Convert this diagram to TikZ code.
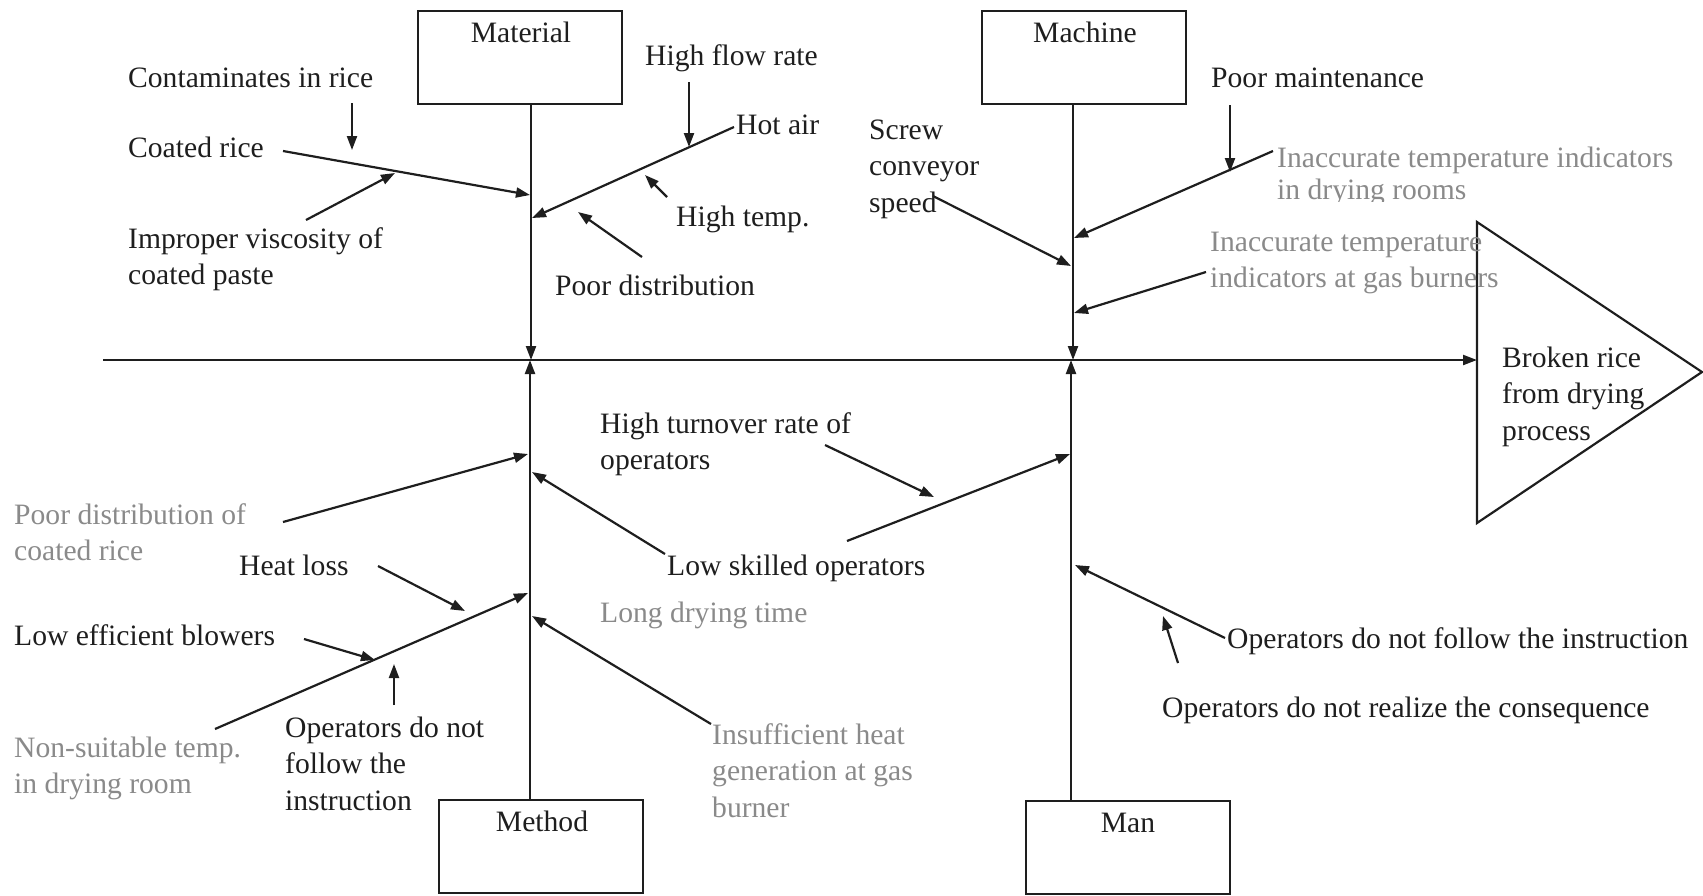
\documentclass[tikz,border=0pt]{standalone}
\usepackage{fontspec}
\setmainfont{Liberation Serif}
\usetikzlibrary{arrows.meta}
\definecolor{ink}{HTML}{1E1E1E}
\definecolor{dimink}{HTML}{8A8A8A}
% left-aligned stacked lines, baseline on the first line
\newcommand\mlines[1]{\begin{tabular}[t]{@{}l@{}}#1\end{tabular}}

\begin{document}
\begin{tikzpicture}[x=1pt,y=-1pt,
  txt/.style={inner sep=0pt, anchor=base west, text=ink,
              font=\fontsize{29.6}{36.5}\selectfont},
  dim/.style={txt, text=dimink},
  cattxt/.style={txt, anchor=base},
  catbox/.style={draw=ink, line width=2pt, minimum width=204pt,
                 minimum height=93pt, inner sep=0pt},
  bone/.style={draw=ink, line width=2.2pt},
  arr/.style={bone, -{Triangle[length=14pt,width=10pt]}},
]
\useasboundingbox (0,0) rectangle (1703,895);

% ---------- head and spine ----------
\coordinate (tail)   at (103,360);
\coordinate (triTop) at (1477,222);
\coordinate (triBot) at (1477,523);
\coordinate (triTip) at (1702,372);
\draw[bone, line join=miter] (triTop) -- (triTip) -- (triBot) -- cycle;
\draw[arr] (tail) -- (tail -| triTop);
\node[txt] (effect) at (1502,367) {\mlines{Broken rice\\from drying\\process}};

% ---------- category boxes ----------
\node[catbox] (material) at (520,57.5) {};
\node[cattxt] (materialtxt) at (521,42) {Material};
\node[catbox] (machine) at (1084,57.5) {};
\node[cattxt] (machinetxt) at (1085,42) {Machine};
\node[catbox] (method) at (541,846.5) {};
\node[cattxt] (methodtxt) at (542,831) {Method};
\node[catbox] (man) at (1128,847) {};
\node[cattxt] (mantxt) at (1128,832) {Man};

\coordinate (matJ) at (531,360);
\coordinate (macJ) at (1073,360);
\coordinate (metJ) at (530,360);
\coordinate (manJ) at (1071,360);
\draw[arr] (material.south -| matJ) -- (matJ);
\draw[arr] (machine.south -| macJ) -- (macJ);
\draw[arr] (method.north -| metJ) -- (metJ);
\draw[arr] (man.north -| manJ) -- (manJ);

% ---------- Material ----------
\node[txt] (contam) at (128,87) {Contaminates in rice};
\node[txt] (coated) at (128,157) {Coated rice};
\node[txt] (viscos) at (128,248) {\mlines{Improper viscosity of\\coated paste}};
\node[txt] (hotair) at (736,134) {Hot air};
\node[txt] (flow)   at (645,65) {High flow rate};
\node[txt] (htemp)  at (676,226) {High temp.};
\node[txt] (pdist)  at (555,295) {Poor distribution};

\coordinate (coatA) at (283,151);  \coordinate (coatB) at (530,195);
\draw[arr] (coatA) -- (coatB);
\coordinate (contA) at (352,103);  \coordinate (contB) at (352,150);
\draw[arr] (contA) -- (contB);
\coordinate (viscA) at (306,220);  \coordinate (viscB) at (395,173);
\draw[arr] (viscA) -- (viscB);
\coordinate (hotA) at (734,127);   \coordinate (hotB) at (532,218);
\draw[arr] (hotA) -- (hotB);
\coordinate (flowA) at (689,82);   \coordinate (flowB) at (689,147);
\draw[arr] (flowA) -- (flowB);
\coordinate (htA) at (667,197);    \coordinate (htB) at (645,175);
\draw[arr] (htA) -- (htB);
\coordinate (pdA) at (642,257);    \coordinate (pdB) at (578,212);
\draw[arr] (pdA) -- (pdB);

% ---------- Machine ----------
\node[txt] (screw) at (869,139) {\mlines{Screw\\conveyor\\speed}};
\node[txt] (maint) at (1211,87) {Poor maintenance};
\begin{scope}
  \clip (1260,130) rectangle (1703,201);
  \node[dim] (rooms) at (1277,167) {\mlines{Inaccurate temperature indicators\\[-4.5pt]in drying rooms}};
\end{scope}
\node[dim] (burners) at (1210,251) {\mlines{Inaccurate temperature\\indicators at gas burners}};

\coordinate (scrA) at (933,196);   \coordinate (scrB) at (1071,266);
\draw[arr] (scrA) -- (scrB);
\coordinate (mntA) at (1230,105);  \coordinate (mntB) at (1230,172);
\draw[arr] (mntA) -- (mntB);
\coordinate (rmA) at (1273,151);   \coordinate (rmB) at (1074,238);
\draw[arr] (rmA) -- (rmB);
\coordinate (gbA) at (1206,272);   \coordinate (gbB) at (1074,313);
\draw[arr] (gbA) -- (gbB);

% ---------- Method ----------
\node[dim] (pdcr)   at (14,524) {\mlines{Poor distribution of\\coated rice}};
\node[txt] (hloss)  at (239,575) {Heat loss};
\node[txt] (blow)   at (14,645) {Low efficient blowers};
\node[dim] (nstemp) at (14,757) {\mlines{Non-suitable temp.\\in drying room}};
\node[txt] (opfol)  at (285,737) {\mlines{Operators do not\\follow the\\instruction}};
\node[dim] (ldry)   at (600,622) {Long drying time};
\node[dim] (insuf)  at (712,744) {\mlines{Insufficient heat\\generation at gas\\burner}};

\coordinate (pdcA) at (283,522);   \coordinate (pdcB) at (528,454);
\draw[arr] (pdcA) -- (pdcB);
\coordinate (nsA) at (215,729);    \coordinate (nsB) at (528,593);
\draw[arr] (nsA) -- (nsB);
\coordinate (hlA) at (378,566);    \coordinate (hlB) at (465,611);
\draw[arr] (hlA) -- (hlB);
\coordinate (blA) at (304,639);    \coordinate (blB) at (375,660);
\draw[arr] (blA) -- (blB);
\coordinate (ofA) at (394,705);    \coordinate (ofB) at (394,664);
\draw[arr] (ofA) -- (ofB);
\coordinate (ldA) at (665,554);    \coordinate (ldB) at (532,472);
\draw[arr] (ldA) -- (ldB);
\coordinate (inA) at (711,724);    \coordinate (inB) at (532,616);
\draw[arr] (inA) -- (inB);

% ---------- Man ----------
\node[txt] (turn)   at (600,433) {\mlines{High turnover rate of\\operators}};
\node[txt] (skill)  at (667,575) {Low skilled operators};
\node[txt] (opins)  at (1227,648) {Operators do not follow the instruction};
\node[txt] (opreal) at (1162,717) {Operators do not realize the consequence};

\coordinate (skA) at (847,541);    \coordinate (skB) at (1070,454);
\draw[arr] (skA) -- (skB);
\coordinate (tnA) at (825,445);    \coordinate (tnB) at (934,497);
\draw[arr] (tnA) -- (tnB);
\coordinate (oiA) at (1225,638);   \coordinate (oiB) at (1075,565);
\draw[arr] (oiA) -- (oiB);
\coordinate (orA) at (1178,663);   \coordinate (orB) at (1163,616);
\draw[arr] (orA) -- (orB);
\end{tikzpicture}
\end{document}
